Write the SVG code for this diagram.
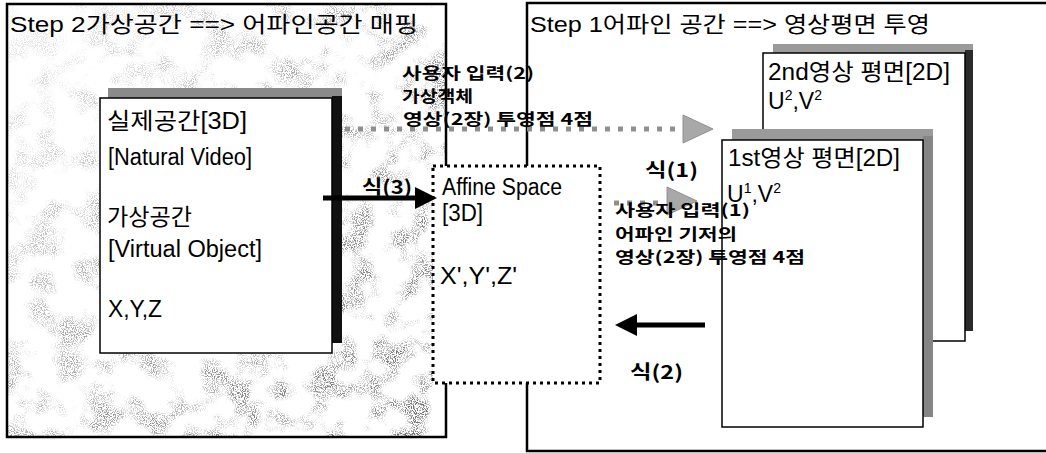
<svg xmlns="http://www.w3.org/2000/svg" width="1046" height="453" viewBox="0 0 1046 453">
  <defs>
    <style>
      .t { font-family: "Liberation Sans", "Noto Sans CJK KR", sans-serif; font-size: 23px; fill: #000; }
      .title { font-family: "Liberation Sans", "Noto Sans CJK KR", sans-serif; font-size: 22px; fill: #000; }
      .b { font-family: "Noto Sans CJK KR", sans-serif; font-weight: bold; font-size: 16px; fill: #000; }
      .eq { font-family: "Noto Sans CJK KR", sans-serif; font-weight: bold; font-size: 19px; fill: #000; }
      .panel { stroke: #000; stroke-width: 2.5; }
      .box { fill: #fff; stroke: #000; stroke-width: 1.5; }
      .thick { stroke: #000; stroke-width: 5; fill: none; }
      .gdots { stroke: #8f8f8f; stroke-width: 5; stroke-dasharray: 5 8; fill: none; }
      .ghead { fill: #a8a8a8; stroke: #909090; stroke-width: 1; }
    </style>
    <filter id="speckle" x="0" y="0" width="1" height="1" color-interpolation-filters="sRGB">
      <feTurbulence type="fractalNoise" baseFrequency="0.035" numOctaves="3" seed="11" result="low"/>
      <feColorMatrix in="low" type="matrix" values="0 0 0 0 0.45  0 0 0 0 0.45  0 0 0 0 0.45  4 0 0 0 -1.85" result="blob"/>
      <feTurbulence type="fractalNoise" baseFrequency="0.9" numOctaves="1" seed="4" result="hi"/>
      <feColorMatrix in="hi" type="matrix" values="0 0 0 0 0.5  0 0 0 0 0.5  0 0 0 0 0.5  8 0 0 0 -3.8" result="grain"/>
      <feComposite in="blob" in2="grain" operator="in"/>
    </filter>
    <linearGradient id="fade" x1="0" y1="0" x2="1" y2="0.8">
      <stop offset="0" stop-color="#fff" stop-opacity="0.1"/>
      <stop offset="0.45" stop-color="#fff" stop-opacity="0.6"/>
      <stop offset="1" stop-color="#fff" stop-opacity="1"/>
    </linearGradient>
    <mask id="texmask" maskUnits="userSpaceOnUse" x="0" y="0" width="1046" height="453">
      <rect x="8" y="5" width="437" height="431" fill="url(#fade)"/>
    </mask>
  </defs>

  <rect x="0" y="0" width="1046" height="453" fill="#fff"/>

  <!-- Step 1 panel -->
  <g id="step1-panel">
    <rect class="panel" x="527" y="3" width="530" height="448" fill="#fff" stroke-width="1.5"/>
    <text class="title" x="530" y="32" textLength="400" lengthAdjust="spacingAndGlyphs">Step 1어파인 공간 ==&gt; 영상평면 투영</text>
  </g>

  <!-- Step 2 panel -->
  <g id="step2-panel">
    <rect x="7" y="4" width="439" height="433" fill="#fff"/>
    <g mask="url(#texmask)">
      <rect x="8" y="5" width="437" height="431" fill="#000" filter="url(#speckle)"/>
    </g>
    <rect class="panel" x="7" y="4" width="439" height="433" fill="none"/>
    <text class="title" x="10" y="32" textLength="408" lengthAdjust="spacingAndGlyphs">Step 2가상공간 ==&gt; 어파인공간 매핑</text>
  </g>

  <!-- Real / virtual space node -->
  <g id="real-space">
    <rect x="108" y="88" width="234" height="255" fill="#8a8a8a"/>
    <rect x="332" y="96" width="10" height="247" fill="#111"/>
    <rect class="box" x="100" y="98" width="232" height="255"/>
    <text class="t" x="107" y="129" textLength="140" lengthAdjust="spacingAndGlyphs">실제공간[3D]</text>
    <text class="t" x="108" y="165" textLength="144" lengthAdjust="spacingAndGlyphs">[Natural Video]</text>
    <text class="t" x="107" y="225" textLength="85" lengthAdjust="spacingAndGlyphs">가상공간</text>
    <text class="t" x="108" y="257" textLength="154" lengthAdjust="spacingAndGlyphs">[Virtual Object]</text>
    <text class="t" x="108" y="317" textLength="54" lengthAdjust="spacingAndGlyphs">X,Y,Z</text>
  </g>

  <!-- Affine space node -->
  <g id="affine-space">
    <rect x="433" y="166" width="167" height="217" fill="#fff" stroke="#000" stroke-width="3" stroke-dasharray="3 4"/>
    <text class="t" x="442" y="195" textLength="120" lengthAdjust="spacingAndGlyphs">Affine Space</text>
    <text class="t" x="442" y="221" textLength="41" lengthAdjust="spacingAndGlyphs">[3D]</text>
    <text class="t" x="440" y="284" textLength="77" lengthAdjust="spacingAndGlyphs">X',Y',Z'</text>
  </g>

  <!-- 2nd image plane -->
  <g id="image-plane-2">
    <rect x="773" y="44" width="200" height="287" fill="#9a9a9a"/>
    <rect x="965" y="50" width="8" height="281" fill="#2a2a2a"/>
    <rect class="box" x="763" y="53" width="202" height="288"/>
    <text class="t" x="768" y="80" textLength="182" lengthAdjust="spacingAndGlyphs">2nd영상 평면[2D]</text>
    <text class="t" x="768" y="109">U<tspan font-size="14" dy="-9">2</tspan><tspan dy="9">,V</tspan><tspan font-size="14" dy="-9">2</tspan></text>
  </g>

  <!-- 1st image plane -->
  <g id="image-plane-1">
    <rect x="732" y="129" width="201" height="288" fill="#9a9a9a"/>
    <rect x="923" y="136" width="10" height="281" fill="#858585"/>
    <rect class="box" x="722" y="140" width="201" height="287"/>
    <text class="t" x="728" y="166" textLength="172" lengthAdjust="spacingAndGlyphs">1st영상 평면[2D]</text>
    <text class="t" x="727" y="202">U<tspan font-size="14" dy="-9">1</tspan><tspan dy="9">,V</tspan><tspan font-size="14" dy="-9">2</tspan></text>
  </g>

  <!-- Connectors -->
  <g id="connectors">
    <line class="thick" x1="323" y1="198" x2="417" y2="198"/>
    <polygon points="415,187 437,198 415,209" fill="#000"/>
    <line class="thick" x1="705" y1="325" x2="635" y2="325"/>
    <polygon points="637,314 615,325 637,336" fill="#000"/>
    <line class="gdots" x1="345" y1="129" x2="682" y2="129"/>
    <polygon class="ghead" points="683,115 713,129 683,143"/>
    <line class="gdots" x1="614" y1="203" x2="666" y2="203"/>
    <polygon class="ghead" points="667,187 697,201 667,215"/>
  </g>

  <!-- Labels -->
  <g id="labels">
    <text class="eq" x="362" y="194" textLength="50" lengthAdjust="spacingAndGlyphs">식(3)</text>
    <text class="eq" x="645" y="177" textLength="53" lengthAdjust="spacingAndGlyphs">식(1)</text>
    <text class="eq" x="630" y="379" textLength="53" lengthAdjust="spacingAndGlyphs">식(2)</text>

    <text class="b" x="402" y="79" textLength="132" lengthAdjust="spacingAndGlyphs">사용자 입력(2)</text>
    <text class="b" x="402" y="102" textLength="71" lengthAdjust="spacingAndGlyphs">가상객체</text>
    <text class="b" x="403" y="125" textLength="190" lengthAdjust="spacingAndGlyphs">영상(2장) 투영점 4점</text>

    <text class="b" x="615" y="216" textLength="135" lengthAdjust="spacingAndGlyphs">사용자 입력(1)</text>
    <text class="b" x="615" y="240" textLength="122" lengthAdjust="spacingAndGlyphs">어파인 기저의</text>
    <text class="b" x="615" y="263" textLength="190" lengthAdjust="spacingAndGlyphs">영상(2장) 투영점 4점</text>
  </g>
</svg>
